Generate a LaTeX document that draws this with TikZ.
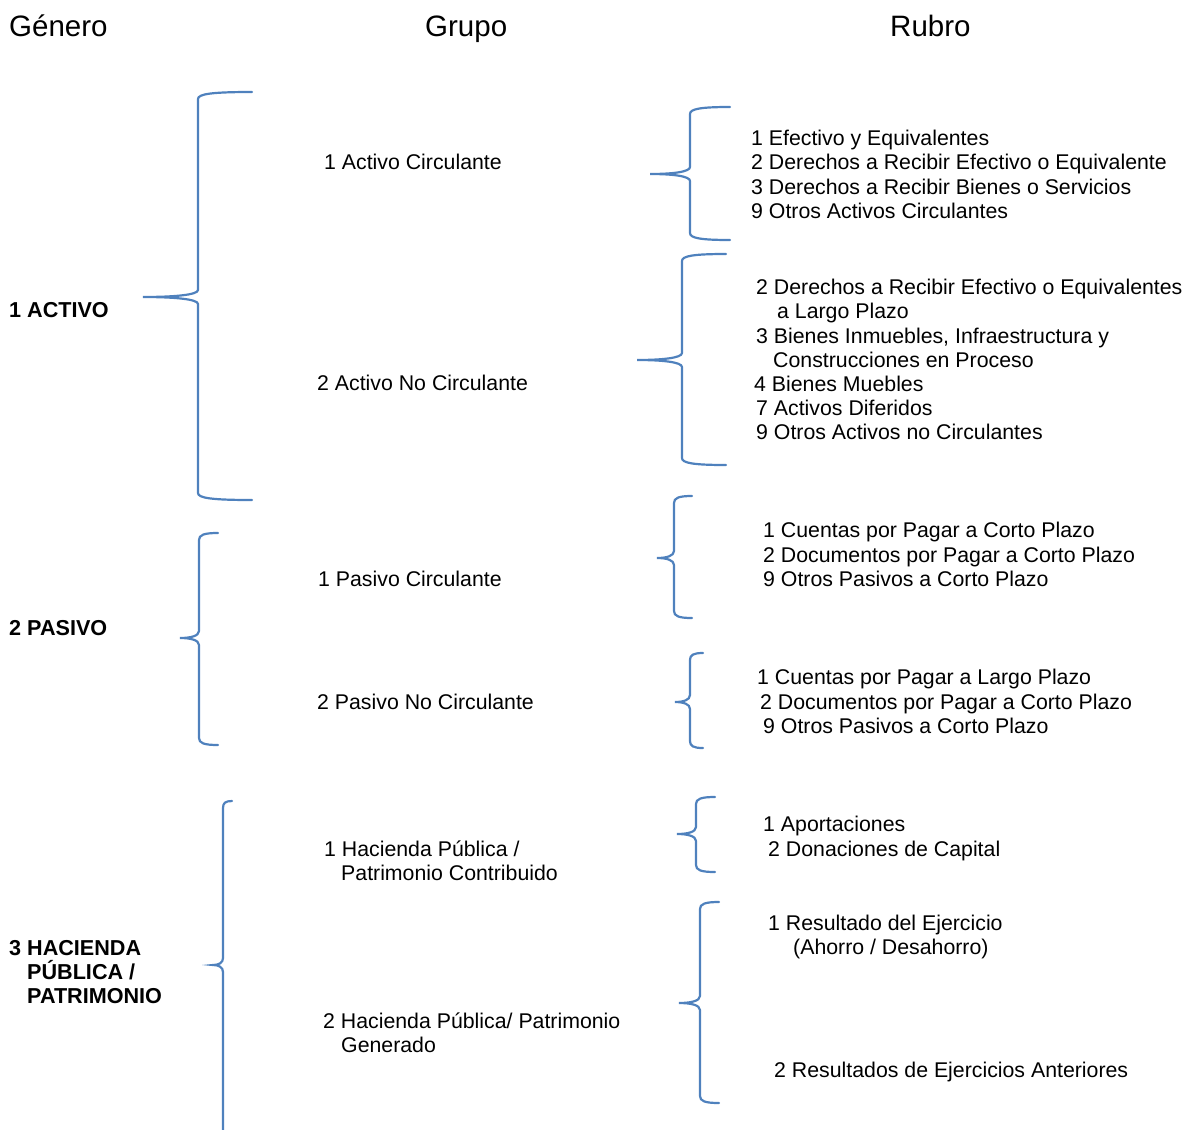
\documentclass[tikz,border=0pt]{standalone}
\usepackage{fontspec}
\setmainfont{Liberation Sans}
\usepackage{tikz}
\definecolor{llaveazul}{RGB}{79,129,189}
% left brace: tip x, spine x, end x, top y, middle y, bottom y
\newcommand{\llave}[6]{%
  \draw[llave] (#3,#4) .. controls ({#2+0.25*(#3-#2)},#4) and (#2,{#4+2}) .. (#2,{#4+7})
    -- (#2,{#5-7}) .. controls (#2,{#5-2}) and ({#2-0.45*(#2-#1)},#5) .. (#1,#5)
    .. controls ({#2-0.45*(#2-#1)},#5) and (#2,{#5+2}) .. (#2,{#5+7})
    -- (#2,{#6-7}) .. controls (#2,{#6-2}) and ({#2+0.25*(#3-#2)},#6) .. (#3,#6);}

\begin{document}
\begin{tikzpicture}[x=1pt,y=-1pt,
  llave/.style={llaveazul, line width=2.2pt, line cap=round},
  txt/.style={anchor=base west, inner sep=0pt, font=\fontsize{21.3}{24}\selectfont},
  negrita/.style={txt, font=\fontsize{21.6}{24}\selectfont\bfseries},
  titulo/.style={anchor=base west, inner sep=0pt, font=\fontsize{29.5}{33}\selectfont}]

\clip (0,0) rectangle (1185,1129);

%---------------- titles -----------------
\node[titulo] (genero) at (9,37) {Género};
\node[titulo] (grupo) at (425,37) {Grupo};
\node[titulo] (rubro) at (890,37) {Rubro};

%---------------- genero -----------------
\node[negrita] (activo) at (9,317) {1 ACTIVO};
\node[negrita] (pasivo) at (9,635) {2 PASIVO};
\node[negrita] (hpa) at (9,955) {3 HACIENDA};
\node[negrita] (hpb) at (27,979) {PÚBLICA /};
\node[negrita] (hpc) at (27,1003) {PATRIMONIO};

\llave{143}{198}{252}{92}{297}{500}
\llave{180}{199}{218}{533}{638}{745}
\llave{213}{223}{232}{801}{965}{1160}

%---------------- grupo -----------------
\node[txt] (acirc) at (324,169) {1 Activo Circulante};
\node[txt] (anocirc) at (317,390) {2 Activo No Circulante};
\node[txt] (pcirc) at (318,586) {1 Pasivo Circulante};
\node[txt] (pnocirc) at (317,709) {2 Pasivo No Circulante};
\node[txt] (hcontra) at (324,856) {1 Hacienda Pública /};
\node[txt] (hcontrb) at (341,880) {Patrimonio Contribuido};
\node[txt] (hgena) at (323,1028) {2 Hacienda Pública/ Patrimonio};
\node[txt] (hgenb) at (341,1052) {Generado};

\llave{650}{690}{730}{107}{174}{240}
\llave{637}{682}{726}{254}{360}{465}
\llave{657}{674}{692}{496}{558}{618}
\llave{675}{690}{703}{653}{702}{748}
\llave{677}{696}{715}{797}{834}{872}
\llave{679}{700}{719}{902}{1003}{1103}

%---------------- rubro -----------------
\node[txt] (ra1) at (751,145) {1 Efectivo y Equivalentes};
\node[txt] (ra2) at (751,169) {2 Derechos a Recibir Efectivo o Equivalente};
\node[txt] (ra3) at (751,194) {3 Derechos a Recibir Bienes o Servicios};
\node[txt] (ra9) at (751,218) {9 Otros Activos Circulantes};

\node[txt] (rb2) at (756,294) {2 Derechos a Recibir Efectivo o Equivalentes};
\node[txt] (rb2b) at (777,318) {a Largo Plazo};
\node[txt] (rb3) at (756,343) {3 Bienes Inmuebles, Infraestructura y};
\node[txt] (rb3b) at (773,367) {Construcciones en Proceso};
\node[txt] (rb4) at (754,391) {4 Bienes Muebles};
\node[txt] (rb7) at (756,415) {7 Activos Diferidos};
\node[txt] (rb9) at (756,439) {9 Otros Activos no Circulantes};

\node[txt] (rc1) at (763,537) {1 Cuentas por Pagar a Corto Plazo};
\node[txt] (rc2) at (763,562) {2 Documentos por Pagar a Corto Plazo};
\node[txt] (rc9) at (763,586) {9 Otros Pasivos a Corto Plazo};

\node[txt] (rd1) at (757,684) {1 Cuentas por Pagar a Largo Plazo};
\node[txt] (rd2) at (760,709) {2 Documentos por Pagar a Corto Plazo};
\node[txt] (rd9) at (763,733) {9 Otros Pasivos a Corto Plazo};

\node[txt] (re1) at (763,831) {1 Aportaciones};
\node[txt] (re2) at (768,856) {2 Donaciones de Capital};

\node[txt] (rf1) at (768,930) {1 Resultado del Ejercicio};
\node[txt] (rf1b) at (793,954) {(Ahorro / Desahorro)};
\node[txt] (rf2) at (774,1077) {2 Resultados de Ejercicios Anteriores};

\end{tikzpicture}
\end{document}
